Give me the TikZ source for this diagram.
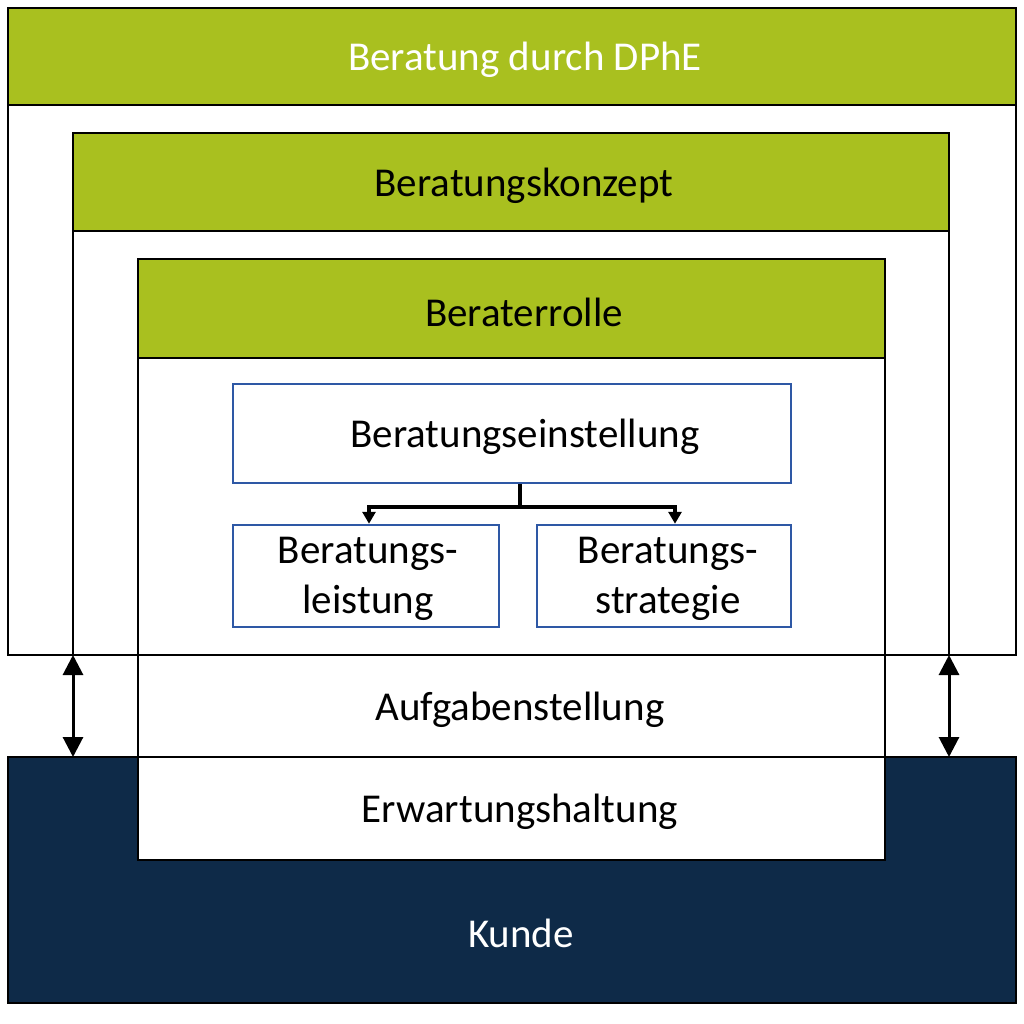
\documentclass[tikz,border=0pt]{standalone}
\usepackage{fontspec}
\setmainfont{Carlito}
\usetikzlibrary{arrows.meta}
\definecolor{lime}{RGB}{169,192,31}
\definecolor{navy}{RGB}{14,42,72}
\definecolor{bblue}{RGB}{46,88,165}
\tikzset{
  frame/.style={draw=black,line width=2.5pt},
  header/.style={frame,fill=lime},
  txt/.style={font=\fontsize{41}{50}\selectfont,align=center,inner sep=0pt},
  bluebox/.style={draw=bblue,line width=2.5pt,fill=white},
  dbl/.style={line width=3pt,{Triangle[width=20pt,length=20pt]}-{Triangle[width=20pt,length=20pt]}},
  conn/.style={line width=3.5pt,-{Triangle[width=13pt,length=12pt]}}
}
\begin{document}
\begin{tikzpicture}[x=1pt,y=-1pt]
\useasboundingbox (0,0) rectangle (1024,1024);
\fill[white] (0,0) rectangle (1024,1024);
% Kunde
\draw[frame,fill=navy] (8,757) rectangle (1016,1003);
\node[txt,text=white] (kunde) at (521,933) {Kunde};
% outer box
\draw[frame] (8,105) rectangle (1016,655);
\draw[header] (8,8) rectangle (1016,105);
\node[txt,text=white] (dphe) at (525,60) {Beratung durch DPhE};
% konzept
\draw[frame] (73,231) -- (73,655) (949,231) -- (949,655);
\draw[header] (73,133) rectangle (949,231);
\node[txt] (konzept) at (524,186) {Beratungskonzept};
% berater
\draw[frame,fill=white] (138,358) rectangle (885,860);
\draw[frame] (138,655) -- (885,655) (138,757) -- (885,757);
\draw[header] (138,259) rectangle (885,358);
\node[txt] (rolle) at (524,312) {Beraterrolle};
\node[txt] (aufgabe) at (520,710) {Aufgabenstellung};
\node[txt] (erwart) at (520,812) {Erwartungshaltung};
% inner boxes
\node[bluebox,minimum width=558pt,minimum height=99pt] (einst) at (512,433.5) {};
\node[txt] (einsttxt) at (525,437) {Beratungseinstellung};
\node[bluebox,minimum width=266pt,minimum height=102pt] (leist) at (366,576) {};
\node[txt] (leisttxt) at (368,579) {Beratungs-\\leistung};
\node[bluebox,minimum width=254pt,minimum height=102pt] (strat) at (664,576) {};
\node[txt] (strattxt) at (668,579) {Beratungs-\\strategie};
\coordinate (split) at (520,507);
\draw[line width=3.5pt] (einst.south -| split) -- (split);
\draw[conn] (split) -- (369,507) -- (leist.north -| 369,0);
\draw[conn] (split) -- (675,507) -- (strat.north -| 675,0);
% double arrows
\coordinate (la) at (73,655); \coordinate (lb) at (73,757);
\coordinate (ra) at (949,655); \coordinate (rb) at (949,757);
\draw[dbl] (la) -- (lb);
\draw[dbl] (ra) -- (rb);
\end{tikzpicture}
\end{document}
